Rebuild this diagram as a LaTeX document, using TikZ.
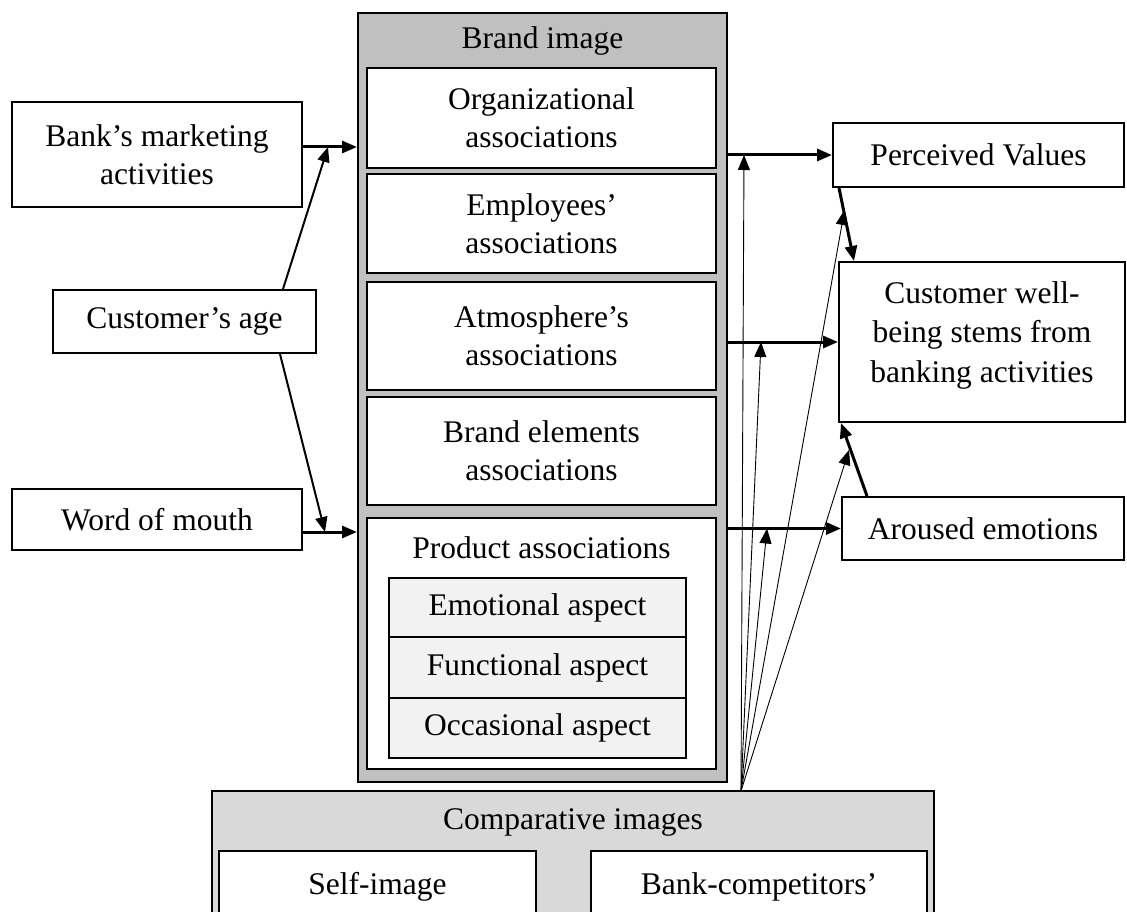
\documentclass[tikz,border=0pt]{standalone}
\usepackage{fontspec}
\setmainfont{Liberation Serif}
\usetikzlibrary{arrows.meta}
\definecolor{brandgray}{HTML}{C0C0C0}
\definecolor{compgray}{HTML}{D9D9D9}
\definecolor{subgray}{HTML}{F2F2F2}
\begin{document}
\begin{tikzpicture}[x=1pt,y=-1pt,
  every node/.style={font=\fontsize{31.5}{38}\selectfont, inner sep=0pt, align=center},
  box/.style={draw, line width=2pt, fill=white},
  graybox/.style={draw, line width=2pt, fill=brandgray},
  compbox/.style={draw, line width=2pt, fill=compgray},
  subbox/.style={draw, line width=2pt, fill=subgray},
  thk/.style={line width=3pt, -{Triangle[length=15pt,width=12pt]}},
  med/.style={line width=2pt, -{Triangle[length=15pt,width=12pt]}},
  thn/.style={line width=0.9pt, -{Triangle[length=15pt,width=12pt]}}]
\useasboundingbox (0,0) rectangle (1127,912);
\clip (0,0) rectangle (1127,912);

% Brand image block
\node[graybox, minimum width=369pt, minimum height=769pt] (brand) at (542.5,397.5) {};
\node (brandtitle) at (542.5,41) {Brand image};
\node[box, minimum width=349pt, minimum height=100pt] (org) at (541.5,118) {Organizational\\associations};
\node[box, minimum width=349pt, minimum height=99pt] (emp) at (541.5,223.5) {Employees’\\associations};
\node[box, minimum width=349pt, minimum height=108pt] (atm) at (541.5,336) {Atmosphere’s\\associations};
\node[box, minimum width=349pt, minimum height=108pt] (bel) at (541.5,451) {Brand elements\\associations};
\node[box, minimum width=349pt, minimum height=251pt] (prod) at (541.5,643.5) {};
\node (prodtitle) at (541.5,548) {Product associations};
\node[subbox, minimum width=297pt, minimum height=59pt] (emo) at (537.5,607.5) {Emotional aspect};
\node[subbox, minimum width=297pt, minimum height=61pt] (fun) at (537.5,667.5) {Functional aspect};
\node[subbox, minimum width=297pt, minimum height=60pt] (occ) at (537.5,728) {Occasional aspect};

% Left boxes
\node[box, minimum width=290pt, minimum height=105pt] (bank) at (157,154.5) {Bank’s marketing\\activities};
\node[box, minimum width=263pt, minimum height=63pt] (age) at (184.5,321.5) {Customer’s age};
\node[box, minimum width=290pt, minimum height=61pt] (wom) at (157,519.5) {Word of mouth};

% Right boxes
\node[box, minimum width=291pt, minimum height=64pt] (pv) at (978.5,155) {Perceived Values};
\node[box, minimum width=286pt, minimum height=160pt, text depth=20pt,
      font=\fontsize{31.5}{39.5}\selectfont] (cw) at (982,342) {Customer well-\\being stems from\\banking activities};
\node[box, minimum width=282pt, minimum height=63pt] (ae) at (983,528.5) {Aroused emotions};

% Comparative images block
\node[compbox, minimum width=722pt, minimum height=170pt] (comp) at (573,876) {};
\node (comptitle) at (573,822) {Comparative images};
\node[box, minimum width=317pt, minimum height=120pt] (self) at (377.5,911) {};
\node (selftext) at (377.5,887) {Self-image};
\node[box, minimum width=336pt, minimum height=120pt] (bcomp) at (759,911) {};
\node (bcomptext) at (759,887) {Bank-competitors’};

% Coordinates for arrow ends on connectors
\coordinate (m1) at (328,147);
\coordinate (m2) at (325,532);
\coordinate (cv) at (741,791);
\coordinate (t1) at (744,155);
\coordinate (t2) at (761,342);
\coordinate (t3) at (767,528.5);
\coordinate (t4) at (844.5,210);
\coordinate (t5) at (849,450);

% Left connectors
\draw[thk] ([yshift=7.5pt]bank.east) -- ([yshift=7.5pt]bank.east -| brand.west);
\draw[thk] ([yshift=-12.5pt]wom.east) -- ([yshift=-12.5pt]wom.east -| brand.west);
\draw[med] ([xshift=98.5pt]age.north) -- (m1);
\draw[med] ([xshift=95.5pt]age.south) -- (m2);

% Right connectors
\draw[thk] (pv.west -| brand.east) -- (pv.west);
\draw[thk] (cw.west -| brand.east) -- (cw.west);
\draw[thk] (ae.west -| brand.east) -- (ae.west);
\draw[thk] ([xshift=7pt]pv.south west) -- ([xshift=16pt]cw.north west);
\draw[thk] ([xshift=26pt]ae.north west) -- ([xshift=3pt]cw.south west);

% Thin arrows from comparative images
\draw[thn] (cv) -- (t1);
\draw[thn] (cv) -- (t2);
\draw[thn] (cv) -- (t3);
\draw[thn] (cv) -- (t4);
\draw[thn] (cv) -- (t5);
\end{tikzpicture}
\end{document}
